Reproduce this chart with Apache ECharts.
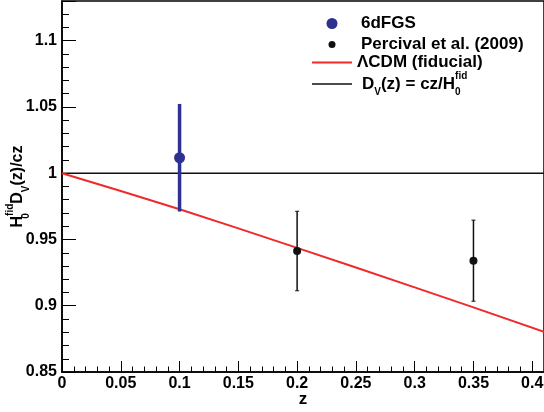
<!DOCTYPE html>
<html><head><meta charset="utf-8">
<script src="https://cdn.jsdelivr.net/npm/echarts@6/dist/echarts.min.js"></script>
<style>html,body{margin:0;padding:0;background:#fff}#c{width:544px;height:412px}</style>
</head><body><div id="c"></div>
<script>
// ---- data ----
const xTickLabels = ['0','0.05','0.1','0.15','0.2','0.25','0.3','0.35','0.4'];
const yTickLabels = ['0.85','0.9','0.95','1','1.05','1.1'];
const sdfgsZ = [0.1];
const sdfgsVal = [1.0117];
const sdfgsErr = [0.0406];
const percZ = [0.2, 0.35];
const percVal = [0.9413, 0.934];
const percErr = [0.030, 0.0306];
const lcdmZ = [0, 0.05, 0.1, 0.15, 0.2, 0.25, 0.3, 0.35, 0.41];
const lcdmVal = [1.0, 0.9866, 0.9728, 0.9584, 0.9437, 0.9289, 0.9139, 0.8988, 0.8804];
const flatZ = [0, 0.41];
const flatVal = [1, 1];

const FONT = '"Liberation Sans", Arial, sans-serif';
const BLUE = '#2e3192', RED = '#ee2a2a', BLACK = '#111';

const pts = (xs, ys) => xs.map((x, i) => [x, ys[i]]);
const bars = (xs, ys, es) => xs.map((x, i) => [x, ys[i] - es[i], ys[i] + es[i]]);

function errBar(color, width, cap) {
  return function (params, api) {
    const x = api.value(0);
    const a = api.coord([x, api.value(1)]);
    const b = api.coord([x, api.value(2)]);
    const ch = [{ type: 'line', shape: { x1: a[0], y1: a[1], x2: b[0], y2: b[1] }, style: { stroke: color, lineWidth: width } }];
    if (cap) {
      ch.push({ type: 'line', shape: { x1: a[0] - cap, y1: a[1], x2: a[0] + cap, y2: a[1] }, style: { stroke: color, lineWidth: 1 } });
      ch.push({ type: 'line', shape: { x1: b[0] - cap, y1: b[1], x2: b[0] + cap, y2: b[1] }, style: { stroke: color, lineWidth: 1 } });
    }
    return { type: 'group', children: ch };
  };
}

const findTick = (v, list) => list.find(t => Math.abs(parseFloat(t) - v) < 1e-6) || '';
const sm = { fontFamily: FONT, fontWeight: 'bold', fontSize: 10, color: '#000' };
const rich = {
  m: { fontFamily: FONT, fontWeight: 'bold', fontSize: 16, color: '#000', lineHeight: 26, verticalAlign: 'middle' },
  b: Object.assign({}, sm, { lineHeight: 22, verticalAlign: 'bottom', width: 0.01, align: 'left' }),
  bv: Object.assign({}, sm, { lineHeight: 22, verticalAlign: 'bottom' }),
  t: Object.assign({}, sm, { lineHeight: 5, verticalAlign: 'top' })
};
const legRich = {
  m: { fontFamily: FONT, fontWeight: 'bold', fontSize: 17, color: '#000', lineHeight: 26, verticalAlign: 'middle' },
  b: Object.assign({}, sm, { lineHeight: 12, verticalAlign: 'bottom', width: 0.01, align: 'left' }),
  bv: Object.assign({}, sm, { lineHeight: 12, verticalAlign: 'bottom' }),
  t: Object.assign({}, sm, { lineHeight: 12, verticalAlign: 'top' })
};

function leg(name, left, top, icon, h, pad, extra) {
  return Object.assign({
    data: [name], left: left, top: top, padding: 0, icon: icon, itemWidth: 40, itemHeight: h,
    selectedMode: false,
    textStyle: { fontFamily: FONT, fontWeight: 'bold', fontSize: 17, color: '#000', padding: [0, 0, 0, pad], rich: legRich }
  }, extra || {});
}

const chart = echarts.init(document.getElementById('c'), null, { renderer: 'canvas' });
chart.setOption({
  animation: false,
  backgroundColor: '#fff',
  grid: { left: 62, right: 0, top: 1, bottom: 40, show: true, borderColor: '#000', borderWidth: 1.5,
    backgroundColor: 'transparent', containLabel: false, outerBoundsMode: 'none' },
  xAxis: {
    type: 'value', min: 0, max: 0.41, interval: 0.05,
    name: 'z', nameLocation: 'middle', nameGap: 19, nameMoveOverlap: false,
    nameTextStyle: { fontFamily: FONT, fontWeight: 'bold', fontSize: 17, color: '#000' },
    axisLine: { lineStyle: { color: '#000', width: 1.5 } },
    axisTick: { inside: true, length: 11, lineStyle: { color: '#000', width: 1 } },
    minorTick: { show: true, splitNumber: 5, length: 5.5, lineStyle: { color: '#000', width: 1 } },
    splitLine: { show: false },
    axisLabel: { margin: 4, fontFamily: FONT, fontWeight: 'bold', fontSize: 16, color: '#000',
      formatter: v => findTick(v, xTickLabels) }
  },
  yAxis: {
    type: 'value', min: 0.85, max: 1.13, interval: 0.05,
    name: '{m|H}{b|0}{t|fid}{m|D}{bv|V}{m|(z)/cz}', nameLocation: 'middle', nameGap: 31, nameRotate: 90,
    nameMoveOverlap: false,
    nameTextStyle: { rich: rich },
    axisLine: { lineStyle: { color: '#000', width: 1.5 } },
    axisTick: { inside: true, length: 14, lineStyle: { color: '#000', width: 1 } },
    minorTick: { show: true, splitNumber: 5, length: 7, lineStyle: { color: '#000', width: 1 } },
    splitLine: { show: false },
    axisLabel: { margin: 5, fontFamily: FONT, fontWeight: 'bold', fontSize: 16, color: '#000',
      formatter: v => findTick(v, yTickLabels) }
  },
  legend: [
    leg('6dFGS', 326.5, 15, 'circle', 11, 4),
    leg('Percival et al. (2009)', 328.5, 36, 'circle', 7, 4),
    leg('ΛCDM (fiducial)', 312, 54, 'rect', 2, 0),
    leg('Dv', 312, 71, 'rect', 1.5, 5, { formatter: () => '{m|D}{bv|V}{m|(z) = cz/H}{b|0}{t|fid}' })
  ],
  series: [
    { name: 'Dv', type: 'line', data: pts(flatZ, flatVal), showSymbol: false, symbol: 'none', color: BLACK,
      lineStyle: { color: BLACK, width: 1.5 }, z: 2 },
    { name: 'ΛCDM (fiducial)', type: 'line', data: pts(lcdmZ, lcdmVal), showSymbol: false, symbol: 'none', color: RED,
      lineStyle: { color: RED, width: 2 }, z: 2 },
    { type: 'custom', data: bars(sdfgsZ, sdfgsVal, sdfgsErr), encode: { x: 0, y: [1, 2] }, renderItem: errBar(BLUE, 3.5, 0), z: 3 },
    { type: 'custom', data: bars(percZ, percVal, percErr), encode: { x: 0, y: [1, 2] }, renderItem: errBar(BLACK, 1.5, 2), z: 3 },
    { name: '6dFGS', type: 'scatter', data: pts(sdfgsZ, sdfgsVal), symbol: 'circle', symbolSize: 11, color: BLUE,
      itemStyle: { color: BLUE, opacity: 1 }, z: 4 },
    { name: 'Percival et al. (2009)', type: 'scatter', data: pts(percZ, percVal), symbol: 'circle', symbolSize: 8, color: BLACK,
      itemStyle: { color: BLACK, opacity: 1 }, z: 4 }
  ]
});
</script></body></html>
